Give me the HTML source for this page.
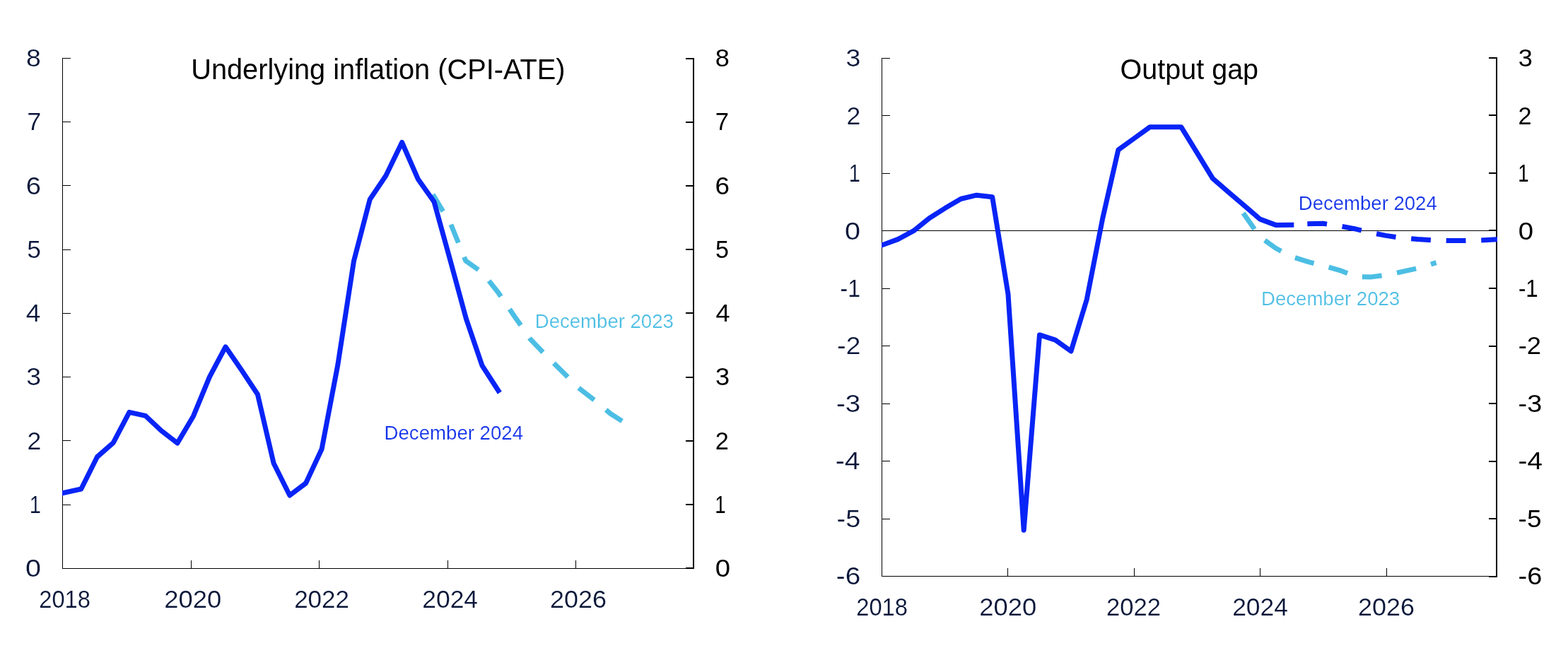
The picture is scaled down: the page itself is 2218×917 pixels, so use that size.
<!DOCTYPE html>
<html lang="en">
<head>
<meta charset="utf-8">
<title>Underlying inflation (CPI-ATE) and Output gap</title>
<style>
html,body{margin:0;padding:0;background:#fff;}
body{width:2218px;height:917px;overflow:hidden;font-family:"Liberation Sans",sans-serif;}
svg{display:block;}
</style>
</head>
<body>
<svg width="2218" height="917" viewBox="0 0 2218 917" role="img" aria-label="Underlying inflation (CPI-ATE) and Output gap" font-family="'Liberation Sans', sans-serif">
<rect width="2218" height="917" fill="#ffffff"/>
<g id="left-axes" shape-rendering="crispEdges">
<rect x="88" y="82" width="1" height="723" fill="#000000"/>
<rect x="88" y="804" width="894" height="1" fill="#000000"/>
<rect x="980" y="82" width="2" height="723" fill="#000000"/>
<rect x="88" y="82" width="12" height="1" fill="#000000"/>
<rect x="970" y="82" width="12" height="2" fill="#000000"/>
<rect x="88" y="172" width="12" height="1" fill="#000000"/>
<rect x="970" y="172" width="12" height="2" fill="#000000"/>
<rect x="88" y="262" width="12" height="1" fill="#000000"/>
<rect x="970" y="262" width="12" height="2" fill="#000000"/>
<rect x="88" y="353" width="12" height="1" fill="#000000"/>
<rect x="970" y="352" width="12" height="2" fill="#000000"/>
<rect x="88" y="443" width="12" height="1" fill="#000000"/>
<rect x="970" y="442" width="12" height="2" fill="#000000"/>
<rect x="88" y="533" width="12" height="1" fill="#000000"/>
<rect x="970" y="533" width="12" height="2" fill="#000000"/>
<rect x="88" y="623" width="12" height="1" fill="#000000"/>
<rect x="970" y="623" width="12" height="2" fill="#000000"/>
<rect x="88" y="714" width="12" height="1" fill="#000000"/>
<rect x="970" y="713" width="12" height="2" fill="#000000"/>
<rect x="88" y="804" width="12" height="1" fill="#000000"/>
<rect x="970" y="803" width="12" height="2" fill="#000000"/>
<rect x="270" y="793" width="1" height="12" fill="#000000"/>
<rect x="451" y="793" width="1" height="12" fill="#000000"/>
<rect x="633" y="793" width="1" height="12" fill="#000000"/>
<rect x="814" y="793" width="1" height="12" fill="#000000"/>
</g>
<clipPath id="clipL"><rect x="88" y="60" width="894" height="760"/></clipPath>
<g id="left-series" clip-path="url(#clipL)">
<polyline points="612.3,275.3 637.5,316.8 658.8,369.2 682.1,385.5 704.8,414.0 727.5,447.2 750.2,480.0 772.9,503.5 795.6,526.0 818.3,548.8 841.0,566.4 863.7,585.5 886.4,600.0" fill="none" stroke="#4cbee4" stroke-width="7.0" stroke-linejoin="round" stroke-linecap="butt" stroke-dasharray="27.8 21.8"/>
<polyline points="78.5,700.0 114.8,692.0 137.5,646.5 160.2,626.6 182.9,583.3 205.6,588.3 228.2,609.5 250.9,627.1 273.6,588.7 296.3,533.6 319.0,490.8 341.7,523.7 364.4,558.0 387.1,655.5 409.8,701.0 432.5,683.9 455.1,635.6 477.8,516.5 500.5,369.4 523.2,282.3 545.9,248.5 568.6,201.5 591.3,253.4 614.0,285.5 636.7,367.6 659.4,451.1 682.0,517.4 704.9,552.8" fill="none" stroke="#0824f6" stroke-width="7.0" stroke-linejoin="round" stroke-linecap="square"/>
</g>
<g id="left-labels">
<text x="37.11" y="94.20" font-size="35.2" fill="#071538" textLength="20.83" lengthAdjust="spacingAndGlyphs" stroke="#ffffff" stroke-width="0.2" paint-order="fill stroke" stroke-linejoin="round">8</text>
<text x="1011.77" y="94.20" font-size="34.4" fill="#000000" textLength="20.12" lengthAdjust="spacingAndGlyphs">8</text>
<text x="38.20" y="184.45" font-size="35.2" fill="#071538" textLength="20.05" lengthAdjust="spacingAndGlyphs" stroke="#ffffff" stroke-width="0.2" paint-order="fill stroke" stroke-linejoin="round">7</text>
<text x="1011.66" y="184.45" font-size="34.4" fill="#000000" textLength="19.31" lengthAdjust="spacingAndGlyphs">7</text>
<text x="36.89" y="274.70" font-size="35.2" fill="#071538" textLength="21.28" lengthAdjust="spacingAndGlyphs" stroke="#ffffff" stroke-width="0.2" paint-order="fill stroke" stroke-linejoin="round">6</text>
<text x="1011.55" y="274.70" font-size="34.4" fill="#000000" textLength="20.55" lengthAdjust="spacingAndGlyphs">6</text>
<text x="38.19" y="364.95" font-size="35.2" fill="#071538" textLength="19.67" lengthAdjust="spacingAndGlyphs" stroke="#ffffff" stroke-width="0.2" paint-order="fill stroke" stroke-linejoin="round">5</text>
<text x="1012.04" y="364.95" font-size="34.4" fill="#000000" textLength="18.97" lengthAdjust="spacingAndGlyphs">5</text>
<text x="36.87" y="455.20" font-size="35.2" fill="#071538" textLength="20.69" lengthAdjust="spacingAndGlyphs" stroke="#ffffff" stroke-width="0.2" paint-order="fill stroke" stroke-linejoin="round">4</text>
<text x="1012.50" y="455.20" font-size="34.4" fill="#000000" textLength="20.02" lengthAdjust="spacingAndGlyphs">4</text>
<text x="37.30" y="545.45" font-size="35.2" fill="#071538" textLength="20.83" lengthAdjust="spacingAndGlyphs" stroke="#ffffff" stroke-width="0.2" paint-order="fill stroke" stroke-linejoin="round">3</text>
<text x="1011.95" y="545.45" font-size="34.4" fill="#000000" textLength="20.12" lengthAdjust="spacingAndGlyphs">3</text>
<text x="38.42" y="635.70" font-size="35.2" fill="#071538" textLength="19.80" lengthAdjust="spacingAndGlyphs" stroke="#ffffff" stroke-width="0.2" paint-order="fill stroke" stroke-linejoin="round">2</text>
<text x="1011.69" y="635.70" font-size="34.4" fill="#000000" textLength="19.07" lengthAdjust="spacingAndGlyphs">2</text>
<text x="41.72" y="725.95" font-size="35.2" fill="#071538" textLength="16.17" lengthAdjust="spacingAndGlyphs" stroke="#ffffff" stroke-width="0.2" paint-order="fill stroke" stroke-linejoin="round">1</text>
<text x="1011.32" y="725.95" font-size="34.4" fill="#000000" textLength="15.39" lengthAdjust="spacingAndGlyphs">1</text>
<text x="36.02" y="816.20" font-size="35.2" fill="#071538" textLength="22.01" lengthAdjust="spacingAndGlyphs" stroke="#ffffff" stroke-width="0.2" paint-order="fill stroke" stroke-linejoin="round">0</text>
<text x="1011.87" y="816.20" font-size="34.4" fill="#000000" textLength="21.31" lengthAdjust="spacingAndGlyphs">0</text>
<text x="55.27" y="860.20" font-size="35.2" fill="#071538" textLength="72.59" lengthAdjust="spacingAndGlyphs" stroke="#ffffff" stroke-width="0.2" paint-order="fill stroke" stroke-linejoin="round">2018</text>
<text x="232.18" y="860.20" font-size="35.2" fill="#071538" textLength="81.07" lengthAdjust="spacingAndGlyphs" stroke="#ffffff" stroke-width="0.2" paint-order="fill stroke" stroke-linejoin="round">2020</text>
<text x="416.15" y="860.20" font-size="35.2" fill="#071538" textLength="77.89" lengthAdjust="spacingAndGlyphs" stroke="#ffffff" stroke-width="0.2" paint-order="fill stroke" stroke-linejoin="round">2022</text>
<text x="597.23" y="860.20" font-size="35.2" fill="#071538" textLength="78.82" lengthAdjust="spacingAndGlyphs" stroke="#ffffff" stroke-width="0.2" paint-order="fill stroke" stroke-linejoin="round">2024</text>
<text x="778.00" y="860.20" font-size="35.2" fill="#071538" textLength="80.00" lengthAdjust="spacingAndGlyphs" stroke="#ffffff" stroke-width="0.2" paint-order="fill stroke" stroke-linejoin="round">2026</text>
<text x="270.22" y="111.80" font-size="40.6" fill="#000000" textLength="529.34" lengthAdjust="spacingAndGlyphs">Underlying inflation (CPI-ATE)</text>
<text x="756.80" y="463.80" font-size="27.9" fill="#4cbee4" textLength="196.05" lengthAdjust="spacingAndGlyphs" stroke="#ffffff" stroke-width="0.2" paint-order="fill stroke" stroke-linejoin="round">December 2023</text>
<text x="543.59" y="621.70" font-size="27.9" fill="#1232e8" textLength="196.44" lengthAdjust="spacingAndGlyphs" stroke="#ffffff" stroke-width="0.2" paint-order="fill stroke" stroke-linejoin="round">December 2024</text>
</g>
<g id="right-axes" shape-rendering="crispEdges">
<rect x="1247" y="82" width="1" height="734" fill="#000000"/>
<rect x="1247" y="815" width="871" height="1" fill="#000000"/>
<rect x="2116" y="81" width="2" height="736" fill="#000000"/>
<rect x="1247" y="326" width="871" height="1" fill="#000000"/>
<rect x="1247" y="82" width="12" height="1" fill="#000000"/>
<rect x="2106" y="81" width="12" height="2" fill="#000000"/>
<rect x="1247" y="163" width="12" height="1" fill="#000000"/>
<rect x="2106" y="162" width="12" height="2" fill="#000000"/>
<rect x="1247" y="245" width="12" height="1" fill="#000000"/>
<rect x="2106" y="244" width="12" height="2" fill="#000000"/>
<rect x="1247" y="326" width="12" height="1" fill="#000000"/>
<rect x="2106" y="325" width="12" height="2" fill="#000000"/>
<rect x="1247" y="408" width="12" height="1" fill="#000000"/>
<rect x="2106" y="407" width="12" height="2" fill="#000000"/>
<rect x="1247" y="489" width="12" height="1" fill="#000000"/>
<rect x="2106" y="489" width="12" height="2" fill="#000000"/>
<rect x="1247" y="571" width="12" height="1" fill="#000000"/>
<rect x="2106" y="570" width="12" height="2" fill="#000000"/>
<rect x="1247" y="652" width="12" height="1" fill="#000000"/>
<rect x="2106" y="652" width="12" height="2" fill="#000000"/>
<rect x="1247" y="734" width="12" height="1" fill="#000000"/>
<rect x="2106" y="733" width="12" height="2" fill="#000000"/>
<rect x="1247" y="815" width="12" height="1" fill="#000000"/>
<rect x="2106" y="815" width="12" height="2" fill="#000000"/>
<rect x="1425" y="804" width="1" height="12" fill="#000000"/>
<rect x="1604" y="804" width="1" height="12" fill="#000000"/>
<rect x="1782" y="804" width="1" height="12" fill="#000000"/>
<rect x="1961" y="804" width="1" height="12" fill="#000000"/>
</g>
<clipPath id="clipR"><rect x="1247" y="60" width="871" height="770"/></clipPath>
<g id="right-series" clip-path="url(#clipR)">
<polyline points="1758.6,301.5 1782.0,335.0 1805.0,351.5 1827.5,363.3 1850.0,370.4 1873.0,376.4 1896.0,382.8 1918.5,391.7 1940.0,391.9 1964.0,388.7 1987.0,383.7 2009.5,378.6 2031.6,371.6" fill="none" stroke="#4cbee4" stroke-width="7.0" stroke-linejoin="round" stroke-linecap="butt" stroke-dasharray="27.8 21.8"/>
<polyline points="1849.3,316.7 1871.4,316.3 1893.6,319.5 1915.9,323.7 1938.2,329.0 1960.4,333.4 1982.7,336.6 2005.0,338.6 2027.2,340.0 2049.5,340.6 2071.8,340.6 2094.1,340.1 2123.0,338.5" fill="none" stroke="#0824f6" stroke-width="7.0" stroke-linejoin="round" stroke-linecap="butt" stroke-dasharray="27.8 21.8"/>
<polyline points="1237.6,350.6 1270.1,338.6 1292.3,326.7 1314.6,308.8 1336.9,294.6 1359.1,281.5 1381.4,276.2 1403.7,278.7 1426.0,416.3 1448.2,750.2 1470.5,473.9 1492.8,481.2 1515.0,497.0 1537.3,423.7 1559.6,309.6 1581.8,212.2 1604.1,196.0 1626.4,179.8 1648.7,179.8 1670.9,179.8 1693.2,216.2 1715.5,252.6 1737.7,271.8 1760.0,290.9 1782.3,310.1 1804.5,318.4 1826.8,318.2" fill="none" stroke="#0824f6" stroke-width="7.0" stroke-linejoin="round" stroke-linecap="square"/>
</g>
<g id="right-labels">
<text x="1196.40" y="94.20" font-size="35.2" fill="#071538" textLength="20.83" lengthAdjust="spacingAndGlyphs" stroke="#ffffff" stroke-width="0.2" paint-order="fill stroke" stroke-linejoin="round">3</text>
<text x="2147.85" y="94.20" font-size="34.4" fill="#000000" textLength="20.12" lengthAdjust="spacingAndGlyphs">3</text>
<text x="1197.52" y="175.64" font-size="35.2" fill="#071538" textLength="19.80" lengthAdjust="spacingAndGlyphs" stroke="#ffffff" stroke-width="0.2" paint-order="fill stroke" stroke-linejoin="round">2</text>
<text x="2147.59" y="175.64" font-size="34.4" fill="#000000" textLength="19.07" lengthAdjust="spacingAndGlyphs">2</text>
<text x="1200.82" y="257.09" font-size="35.2" fill="#071538" textLength="16.17" lengthAdjust="spacingAndGlyphs" stroke="#ffffff" stroke-width="0.2" paint-order="fill stroke" stroke-linejoin="round">1</text>
<text x="2147.22" y="257.09" font-size="34.4" fill="#000000" textLength="15.39" lengthAdjust="spacingAndGlyphs">1</text>
<text x="1195.12" y="338.53" font-size="35.2" fill="#071538" textLength="22.01" lengthAdjust="spacingAndGlyphs" stroke="#ffffff" stroke-width="0.2" paint-order="fill stroke" stroke-linejoin="round">0</text>
<text x="2147.77" y="338.53" font-size="34.4" fill="#000000" textLength="21.31" lengthAdjust="spacingAndGlyphs">0</text>
<text x="1188.56" y="419.98" font-size="35.2" fill="#071538" textLength="28.52" lengthAdjust="spacingAndGlyphs" stroke="#ffffff" stroke-width="0.2" paint-order="fill stroke" stroke-linejoin="round">-1</text>
<text x="2147.89" y="419.98" font-size="34.4" fill="#000000" textLength="27.85" lengthAdjust="spacingAndGlyphs">-1</text>
<text x="1184.33" y="501.42" font-size="35.2" fill="#071538" textLength="32.99" lengthAdjust="spacingAndGlyphs" stroke="#ffffff" stroke-width="0.2" paint-order="fill stroke" stroke-linejoin="round">-2</text>
<text x="2147.66" y="501.42" font-size="34.4" fill="#000000" textLength="32.32" lengthAdjust="spacingAndGlyphs">-2</text>
<text x="1182.97" y="582.87" font-size="35.2" fill="#071538" textLength="34.23" lengthAdjust="spacingAndGlyphs" stroke="#ffffff" stroke-width="0.2" paint-order="fill stroke" stroke-linejoin="round">-3</text>
<text x="2147.60" y="582.87" font-size="34.4" fill="#000000" textLength="33.57" lengthAdjust="spacingAndGlyphs">-3</text>
<text x="1181.73" y="664.31" font-size="35.2" fill="#071538" textLength="34.91" lengthAdjust="spacingAndGlyphs" stroke="#ffffff" stroke-width="0.2" paint-order="fill stroke" stroke-linejoin="round">-4</text>
<text x="2147.57" y="664.31" font-size="34.4" fill="#000000" textLength="34.26" lengthAdjust="spacingAndGlyphs">-4</text>
<text x="1183.60" y="745.76" font-size="35.2" fill="#071538" textLength="33.57" lengthAdjust="spacingAndGlyphs" stroke="#ffffff" stroke-width="0.2" paint-order="fill stroke" stroke-linejoin="round">-5</text>
<text x="2147.64" y="745.76" font-size="34.4" fill="#000000" textLength="32.90" lengthAdjust="spacingAndGlyphs">-5</text>
<text x="1182.76" y="827.20" font-size="35.2" fill="#071538" textLength="34.45" lengthAdjust="spacingAndGlyphs" stroke="#ffffff" stroke-width="0.2" paint-order="fill stroke" stroke-linejoin="round">-6</text>
<text x="2147.59" y="827.20" font-size="34.4" fill="#000000" textLength="33.79" lengthAdjust="spacingAndGlyphs">-6</text>
<text x="1211.27" y="871.20" font-size="35.2" fill="#071538" textLength="72.59" lengthAdjust="spacingAndGlyphs" stroke="#ffffff" stroke-width="0.2" paint-order="fill stroke" stroke-linejoin="round">2018</text>
<text x="1385.18" y="871.20" font-size="35.2" fill="#071538" textLength="81.07" lengthAdjust="spacingAndGlyphs" stroke="#ffffff" stroke-width="0.2" paint-order="fill stroke" stroke-linejoin="round">2020</text>
<text x="1565.07" y="871.20" font-size="35.2" fill="#071538" textLength="77.05" lengthAdjust="spacingAndGlyphs" stroke="#ffffff" stroke-width="0.2" paint-order="fill stroke" stroke-linejoin="round">2022</text>
<text x="1743.13" y="871.20" font-size="35.2" fill="#071538" textLength="78.92" lengthAdjust="spacingAndGlyphs" stroke="#ffffff" stroke-width="0.2" paint-order="fill stroke" stroke-linejoin="round">2024</text>
<text x="1921.10" y="871.20" font-size="35.2" fill="#071538" textLength="79.90" lengthAdjust="spacingAndGlyphs" stroke="#ffffff" stroke-width="0.2" paint-order="fill stroke" stroke-linejoin="round">2026</text>
<text x="1584.52" y="111.70" font-size="40.6" fill="#000000" textLength="195.59" lengthAdjust="spacingAndGlyphs">Output gap</text>
<text x="1836.80" y="296.80" font-size="27.9" fill="#1232e8" textLength="195.94" lengthAdjust="spacingAndGlyphs" stroke="#ffffff" stroke-width="0.2" paint-order="fill stroke" stroke-linejoin="round">December 2024</text>
<text x="1784.10" y="431.80" font-size="27.9" fill="#4cbee4" textLength="196.05" lengthAdjust="spacingAndGlyphs" stroke="#ffffff" stroke-width="0.2" paint-order="fill stroke" stroke-linejoin="round">December 2023</text>
</g>
</svg>
</body>
</html>
